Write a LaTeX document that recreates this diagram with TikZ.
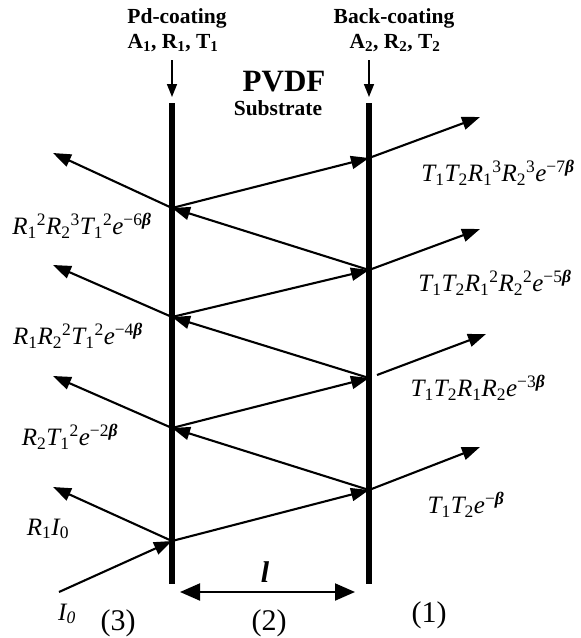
\documentclass[tikz,border=0pt]{standalone}
\usepackage{fontspec}
\setmainfont{Liberation Serif}
\usetikzlibrary{arrows.meta}
\newcommand\lo[1]{\textsubscript{\upshape #1}}
\newcommand\hi[1]{\textsuperscript{\upshape #1}}
\newcommand\bt{\textbf{\textit{β}}}
\begin{document}
\begin{tikzpicture}[x=1pt,y=-1pt,
  tip/.style={-{Triangle[length=18pt,width=13pt]}},
  ray/.style={line width=2.1pt,tip},
  barline/.style={line width=6pt},
  pointer/.style={line width=1.6pt,-{Triangle[length=13pt,width=10pt]}},
  toplab/.style={font=\fontsize{21.5}{23}\selectfont\bfseries, inner sep=0pt},
  lab/.style={font=\fontsize{25}{27}\selectfont\itshape, inner sep=0pt},
  numlab/.style={font=\fontsize{30}{32}\selectfont, inner sep=0pt}]
\useasboundingbox (0,0) rectangle (581,638);
% bars
\coordinate (b1t) at (172,103); \coordinate (b1b) at (172,584);
\coordinate (b2t) at (369,103); \coordinate (b2b) at (369,584);
\draw[barline] (b1t) -- (b1b);
\draw[barline] (b2t) -- (b2b);
% top labels
\node[toplab] (pd) at (177,18) {Pd-coating};
\node[toplab] (pdp) at (173,43) {A\lo{1}, R\lo{1}, T\lo{1}};
\node[toplab] (bc) at (394,18) {Back-coating};
\node[toplab] (bcp) at (395,43) {A\lo{2}, R\lo{2}, T\lo{2}};
\node[font=\fontsize{31}{33}\selectfont\bfseries, inner sep=0pt] (pvdf) at (284,82) {PVDF};
\node[toplab] (sub) at (278,108) {Substrate};
\coordinate (p1s) at (172,60); \coordinate (p1e) at (172,97);
\coordinate (p2s) at (369,60); \coordinate (p2e) at (369,97);
\draw[pointer] (p1s) -- (p1e);
\draw[pointer] (p2s) -- (p2e);
% hit points
\coordinate (L0) at (172,541); \coordinate (R0) at (369,490);
\coordinate (L1) at (172,428); \coordinate (R1) at (369,378);
\coordinate (L2) at (172,317); \coordinate (R2) at (369,270);
\coordinate (L3) at (172,208); \coordinate (R3) at (369,158);
% incident
\coordinate (in) at (59,592);
\draw[ray] (in) -- (L0);
% zigzag
\draw[ray] (L0) -- (R0);
\draw[ray] (R0) -- (L1);
\draw[ray] (L1) -- (R1);
\draw[ray] (R1) -- (L2);
\draw[ray] (L2) -- (R2);
\draw[ray] (R2) -- (L3);
\draw[ray] (L3) -- (R3);
% reflected to left
\coordinate (l0) at (53,487); \coordinate (l1) at (53,376);
\coordinate (l2) at (53,265); \coordinate (l3) at (53,153);
\draw[ray] (L0) -- (l0);
\draw[ray] (L1) -- (l1);
\draw[ray] (L2) -- (l2);
\draw[ray] (L3) -- (l3);
% transmitted to right
\coordinate (r0) at (480,447); \coordinate (r1) at (486,334);
\coordinate (r2) at (480,229); \coordinate (r3) at (480,117);
\coordinate (R1g) at (377,375);
\draw[ray] (R0) -- (r0);
\draw[ray] (R1g) -- (r1);
\draw[ray] (R2) -- (r2);
\draw[ray] (R3) -- (r3);
% thickness arrow
\coordinate (tA) at (180,592); \coordinate (tB) at (355,592);
\draw[line width=2pt,{Triangle[length=20pt,width=17pt]}-{Triangle[length=20pt,width=17pt]}] (tA) -- (tB);
\node[font=\fontsize{30}{32}\selectfont\bfseries\itshape, inner sep=0pt] (ell) at (265,572) {l};
% left labels
\node[lab] (lt3) at (82,226) {R\lo{1}\hi{2}R\lo{2}\hi{3}T\lo{1}\hi{2}e\hi{−6\bt}};
\node[lab] (lt2) at (78,336) {R\lo{1}R\lo{2}\hi{2}T\lo{1}\hi{2}e\hi{−4\bt}};
\node[lab] (lt1) at (70,437) {R\lo{2}T\lo{1}\hi{2}e\hi{−2\bt}};
\node[lab] (lt0) at (48,529) {R\lo{1}I\lo{0}};
\node[lab] (inl) at (67,614) {I\lo{\itshape 0}};
% right labels
\node[lab] (rt3) at (498,173) {T\lo{1}T\lo{2}R\lo{1}\hi{3}R\lo{2}\hi{3}e\hi{−7\bt}};
\node[lab] (rt2) at (495,283) {T\lo{1}T\lo{2}R\lo{1}\hi{2}R\lo{2}\hi{2}e\hi{−5\bt}};
\node[lab] (rt1) at (478,388) {T\lo{1}T\lo{2}R\lo{1}R\lo{2}e\hi{−3\bt}};
\node[lab] (rt0) at (466,505) {T\lo{1}T\lo{2}e\hi{−\bt}};
% region labels
\node[numlab] (n3) at (118,623) {(3)};
\node[numlab] (n2) at (269,623) {(2)};
\node[numlab] (n1) at (429,615) {(1)};
\end{tikzpicture}
\end{document}
